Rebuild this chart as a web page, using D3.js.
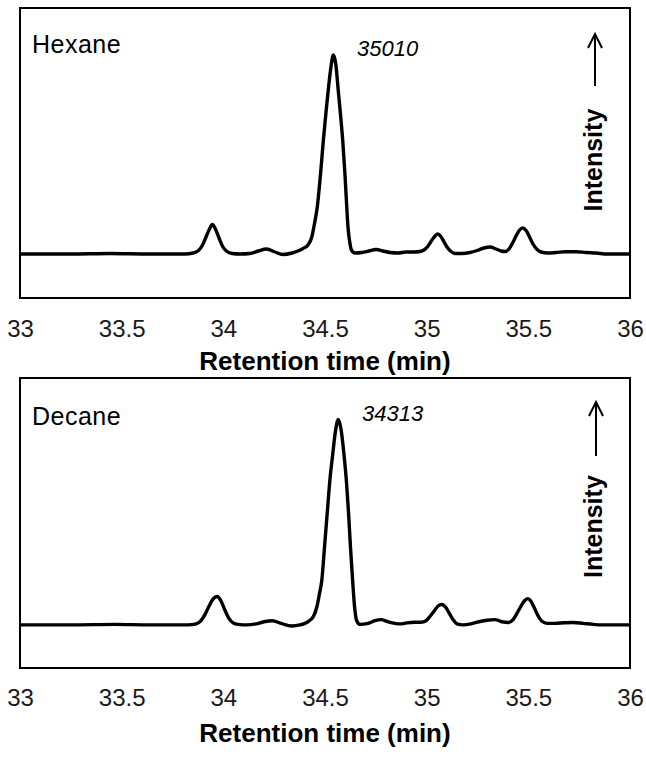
<!DOCTYPE html>
<html>
<head>
<meta charset="utf-8">
<script src="https://cdn.jsdelivr.net/npm/d3@7"></script>
<style>
    body { margin: 0; background: #fff; }
    text { font-family: "Liberation Sans", Arial, sans-serif; }
    .tick text { font-size: 24px; fill: #1a1a1a; }
    .axis-title { font-size: 26px; font-weight: bold; }
    .solvent { font-size: 25px; letter-spacing: 0.5px; }
    .peak-label { font-size: 22px; font-style: italic; }
    .int-label { font-size: 25px; font-weight: bold; }
</style>
</head>
<body>
<div id="chart"></div>
<script>
// retention time ticks (min)
var ticks = [33, 33.5, 34, 34.5, 35, 35.5, 36];

// Hexane trace: retention time (min) and signal above baseline (arbitrary units)
var hexaneTime = [33.000, 33.246, 33.443, 33.639, 33.811, 33.851, 33.875, 33.895, 33.915, 33.932,
    33.946, 33.961, 33.979, 33.998, 34.018, 34.043, 34.082, 34.131, 34.171, 34.213,
    34.254, 34.293, 34.338, 34.367, 34.392, 34.416, 34.435, 34.448, 34.462, 34.478,
    34.492, 34.505, 34.516, 34.530, 34.541, 34.553, 34.565, 34.576, 34.587, 34.598,
    34.607, 34.613, 34.621, 34.630, 34.648, 34.682, 34.716, 34.751, 34.785, 34.820,
    34.859, 34.898, 34.938, 34.967, 34.987, 35.007, 35.026, 35.041, 35.054, 35.068,
    35.083, 35.100, 35.120, 35.139, 35.174, 35.213, 35.248, 35.282, 35.312, 35.341,
    35.366, 35.385, 35.405, 35.425, 35.442, 35.457, 35.472, 35.489, 35.506, 35.523,
    35.543, 35.562, 35.597, 35.636, 35.685, 35.735, 35.784, 35.833, 35.887, 35.941,
    36.000];
var hexaneSignal = [0, 0, 0.5, 0, 0, 1, 3, 8, 17, 25,
    29.5, 25, 16, 7, 2.5, 0.5, 0, 0.5, 3, 5,
    2, -0.5, 1, 3, 5.5, 9, 17, 30, 47, 80,
    114, 142, 164, 188, 199, 190, 164, 140, 114, 80,
    47, 27, 13, 4, 1, 1.5, 3, 4.5, 3, 1.5,
    1, 2, 2, 2.5, 4, 8, 14, 18, 20, 18,
    13, 7, 2.5, 0.5, 0.5, 1.5, 3.5, 6, 7, 5,
    3, 2.5, 5, 12, 19, 24, 26, 23.5, 17, 10,
    4.5, 2, 1, 1.5, 2.3, 2.3, 1.5, 1, 0, 0,
    0];

// Decane trace
var decaneTime = [33.000, 33.246, 33.467, 33.639, 33.826, 33.866, 33.890, 33.910, 33.930, 33.949,
    33.970, 33.988, 34.008, 34.028, 34.048, 34.072, 34.116, 34.161, 34.200, 34.241,
    34.284, 34.336, 34.377, 34.412, 34.443, 34.461, 34.473, 34.484, 34.498, 34.512,
    34.525, 34.536, 34.552, 34.565, 34.579, 34.595, 34.606, 34.615, 34.625, 34.636,
    34.645, 34.656, 34.672, 34.712, 34.746, 34.775, 34.810, 34.844, 34.869, 34.903,
    34.938, 34.972, 34.997, 35.016, 35.036, 35.056, 35.074, 35.093, 35.110, 35.130,
    35.149, 35.179, 35.218, 35.257, 35.297, 35.336, 35.370, 35.402, 35.425, 35.444,
    35.464, 35.481, 35.497, 35.513, 35.530, 35.547, 35.567, 35.592, 35.631, 35.675,
    35.720, 35.769, 35.818, 35.867, 35.926, 36.000];
var decaneSignal = [0, 0, 0.5, 0, 0, 1, 4, 10, 18, 24.5,
    27, 23, 14, 6, 2, 0.5, 0, 1, 3, 4,
    1.5, -1, 0, 2.5, 8, 18, 30, 42, 75, 109,
    140, 159, 185, 195.5, 186, 159, 135, 109, 75, 42,
    18, 4, 0.5, 1.5, 4, 5, 3, 1.5, 1, 2,
    2.5, 2.5, 4, 8, 13, 18, 19.5, 17, 11.5, 5,
    1, 0, 1, 3, 4.5, 5, 3, 2.3, 5, 11,
    18, 23, 25, 22.5, 16, 9, 3.5, 1.5, 1.5, 2,
    2.3, 1.5, 0.5, 0, 0, 0];

var panels = [
    {name: "Hexane", time: hexaneTime, signal: hexaneSignal, label: "35010",
     top: 8, yDomain: [-44, 246], nameY: 53, labelX: 357, labelY: 56,
     intY: 211.5, arrowX: 595, arrowTop: 34, arrowBottom: 86, tickPad: 22, titleY: 370},
    {name: "Decane", time: decaneTime, signal: decaneSignal, label: "34313",
     top: 378, yDomain: [-41, 235], nameY: 425, labelX: 362, labelY: 421,
     intY: 578, arrowX: 596, arrowTop: 402, arrowBottom: 456, tickPad: 21, titleY: 742}
];

var width = 646, height = 766;
var left = 20, right = 630, plotH = 290;

var svg = d3.select('#chart').append('svg')
    .attr('width', width)
    .attr('height', height);

var x = d3.scaleLinear()
    .domain([33, 36])
    .range([left, right]);

panels.forEach(function(p) {
    var y = d3.scaleLinear()
        .domain(p.yDomain)
        .range([p.top + plotH, p.top]);

    var pts = p.time.map(function(t, i) { return [t, p.signal[i]]; });

    var line = d3.line()
        .x(d => x(d[0]))
        .y(d => y(d[1]))
        .curve(d3.curveMonotoneX);

    svg.append('path')
        .datum(pts)
        .attr('fill', 'none')
        .attr('stroke', '#000')
        .attr('stroke-width', 3.4)
        .attr('stroke-linejoin', 'round')
        .attr('d', line);

    // frame
    svg.append('rect')
        .attr('x', left)
        .attr('y', p.top)
        .attr('width', right - left)
        .attr('height', plotH)
        .attr('fill', 'none')
        .attr('stroke', '#000')
        .attr('stroke-width', 2);

    var xAxis = svg.append('g')
        .attr('transform', 'translate(0,' + (p.top + plotH) + ')')
        .call(d3.axisBottom(x).tickValues(ticks).tickSize(0).tickPadding(p.tickPad)
            .tickFormat(d3.format('')));
    xAxis.select('.domain').remove();
    xAxis.selectAll('text').style('font-family', '"Liberation Sans", Arial, sans-serif');

    svg.append('text')
        .attr('class', 'axis-title')
        .attr('x', (left + right) / 2)
        .attr('y', p.titleY)
        .attr('text-anchor', 'middle')
        .text('Retention time (min)');

    svg.append('text')
        .attr('class', 'solvent')
        .attr('x', 32)
        .attr('y', p.nameY)
        .text(p.name);

    svg.append('text')
        .attr('class', 'peak-label')
        .attr('x', p.labelX)
        .attr('y', p.labelY)
        .text(p.label);

    // intensity label with arrow
    svg.append('text')
        .attr('class', 'int-label')
        .attr('transform', 'translate(602,' + p.intY + ') rotate(-90)')
        .text('Intensity');

    svg.append('line')
        .attr('x1', p.arrowX).attr('x2', p.arrowX)
        .attr('y1', p.arrowBottom).attr('y2', p.arrowTop + 1)
        .attr('stroke', '#000')
        .attr('stroke-width', 2);
    svg.append('path')
        .attr('d', 'M' + (p.arrowX - 7) + ',' + (p.arrowTop + 14) + 'L' + p.arrowX + ',' + p.arrowTop +
            'L' + (p.arrowX + 7) + ',' + (p.arrowTop + 14))
        .attr('fill', 'none')
        .attr('stroke', '#000')
        .attr('stroke-width', 2);
});
</script>
</body>
</html>
